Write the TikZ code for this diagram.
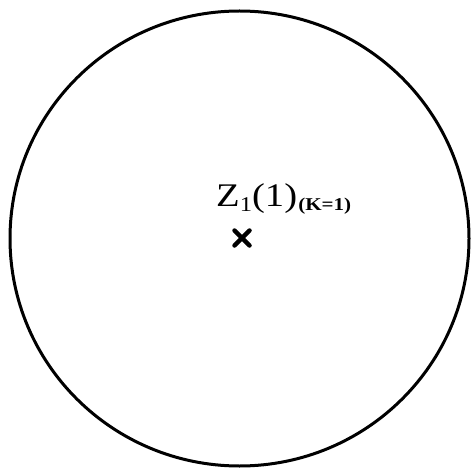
\documentclass[tikz,border=0pt]{standalone}
\usepackage{fontspec}
\setmainfont{Liberation Serif}
\usetikzlibrary{calc}
\begin{document}
\begin{tikzpicture}[x=1pt,y=-1pt,
  outline/.style={line width=3pt},
  crossline/.style={line width=4.5pt,line cap=round}]
\useasboundingbox (0,0) rectangle (473,470);
\draw[outline] (239.5,238.5) ellipse [x radius=229.5, y radius=227.5];
\coordinate (c) at (242,238);
\draw[crossline] ($(c)+(-7.5,-7.5)$) -- ($(c)+(7.5,7.5)$);
\draw[crossline] ($(c)+(-7.5,7.5)$) -- ($(c)+(7.5,-7.5)$);
\node[anchor=base west, inner sep=0, xscale=1.17] (lab) at (216,207)
 {\fontsize{33}{33}\selectfont Z\raisebox{-5pt}{\fontsize{21}{21}\selectfont 1}(1)\hspace{1pt}\raisebox{-4pt}{\fontsize{18}{18}\selectfont\bfseries (K=1)}};
\end{tikzpicture}
\end{document}
